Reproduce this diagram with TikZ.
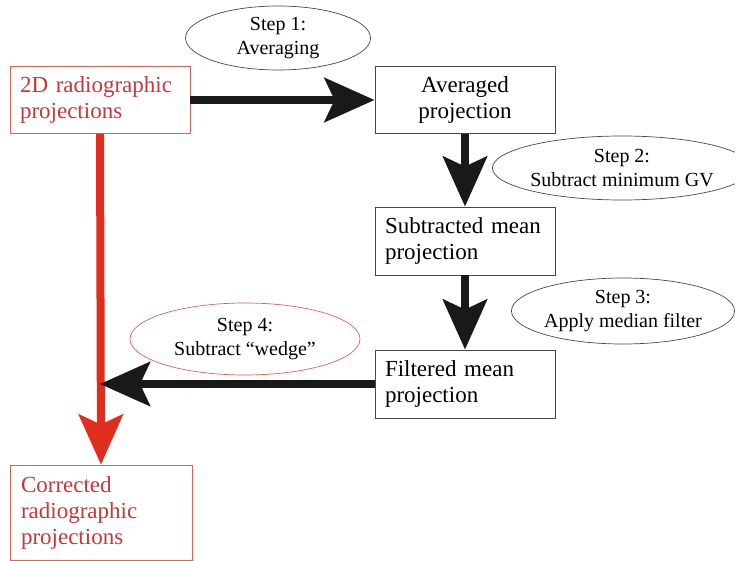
\documentclass[tikz,border=0pt]{standalone}
\usepackage{fontspec}
\setmainfont{Liberation Serif}
\usetikzlibrary{arrows.meta, positioning, shapes.geometric, calc}
\definecolor{corrred}{RGB}{225,45,30}
\definecolor{boxred}{RGB}{225,95,85}
\definecolor{textred}{RGB}{200,55,55}
\definecolor{framegray}{RGB}{70,70,70}
\tikzset{
  stagebox/.style={draw=framegray, line width=0.9pt, fill=white, minimum width=180pt,
                   minimum height=67pt, text width=160pt, align=left, inner sep=0pt,
                   font=\fontsize{23}{26}\selectfont},
  redbox/.style={stagebox, draw=boxred, text=textred},
  stepnote/.style={ellipse, draw=framegray, line width=0.7pt, inner sep=0pt, align=center,
                   font=\fontsize{20}{24}\selectfont},
  flow/.style={line width=8pt, draw=black!90, -{Stealth[length=50pt, width=44pt, inset=10pt]}},
  redflow/.style={flow, draw=corrred, -{Stealth[length=50pt, width=44pt, inset=10pt]}, color=corrred},
}

\begin{document}
\begin{tikzpicture}[x=1pt, y=-1pt]
\useasboundingbox (0,0) rectangle (735,561);
% boxes
\node[redbox] (raw) at (100,100) {2D radiographic\\projections};
\node[stagebox, align=center] (avg) at (465,100) {Averaged\\projection};
\node[stagebox, minimum height=68pt] (sub) at (465,241) {Subtracted mean\\projection};
\node[stagebox, minimum height=68pt] (filt) at (465,384) {Filtered mean\\projection};
\node[redbox, minimum height=95pt, minimum width=182pt] (corr) at (101,512.5) {Corrected\\radiographic\\projections};
% steps
\node[stepnote, minimum width=185pt, minimum height=64pt] (step1) at (278,38) {Step 1:\\Averaging};
\node[stepnote, minimum width=225pt, minimum height=64pt] (step2) at (622,168) {Step 2:\\Subtract minimum GV};
\node[stepnote, minimum width=222pt, minimum height=66pt] (step3) at (623,311) {Step 3:\\Apply median filter};
\node[stepnote, draw=boxred, minimum width=230pt, minimum height=72pt] (step4) at (245,339) {Step 4:\\Subtract ``wedge''};
% connectors
\coordinate (join) at (raw.south |- filt.west);
\draw[redflow] (raw.south) -- (corr.north);
\draw[flow] (raw.east) -- (avg.west);
\draw[flow] (avg.south) -- (sub.north);
\draw[flow] (sub.south) -- (filt.north);
\draw[flow] (filt.west) -- (join);
\end{tikzpicture}
\end{document}
